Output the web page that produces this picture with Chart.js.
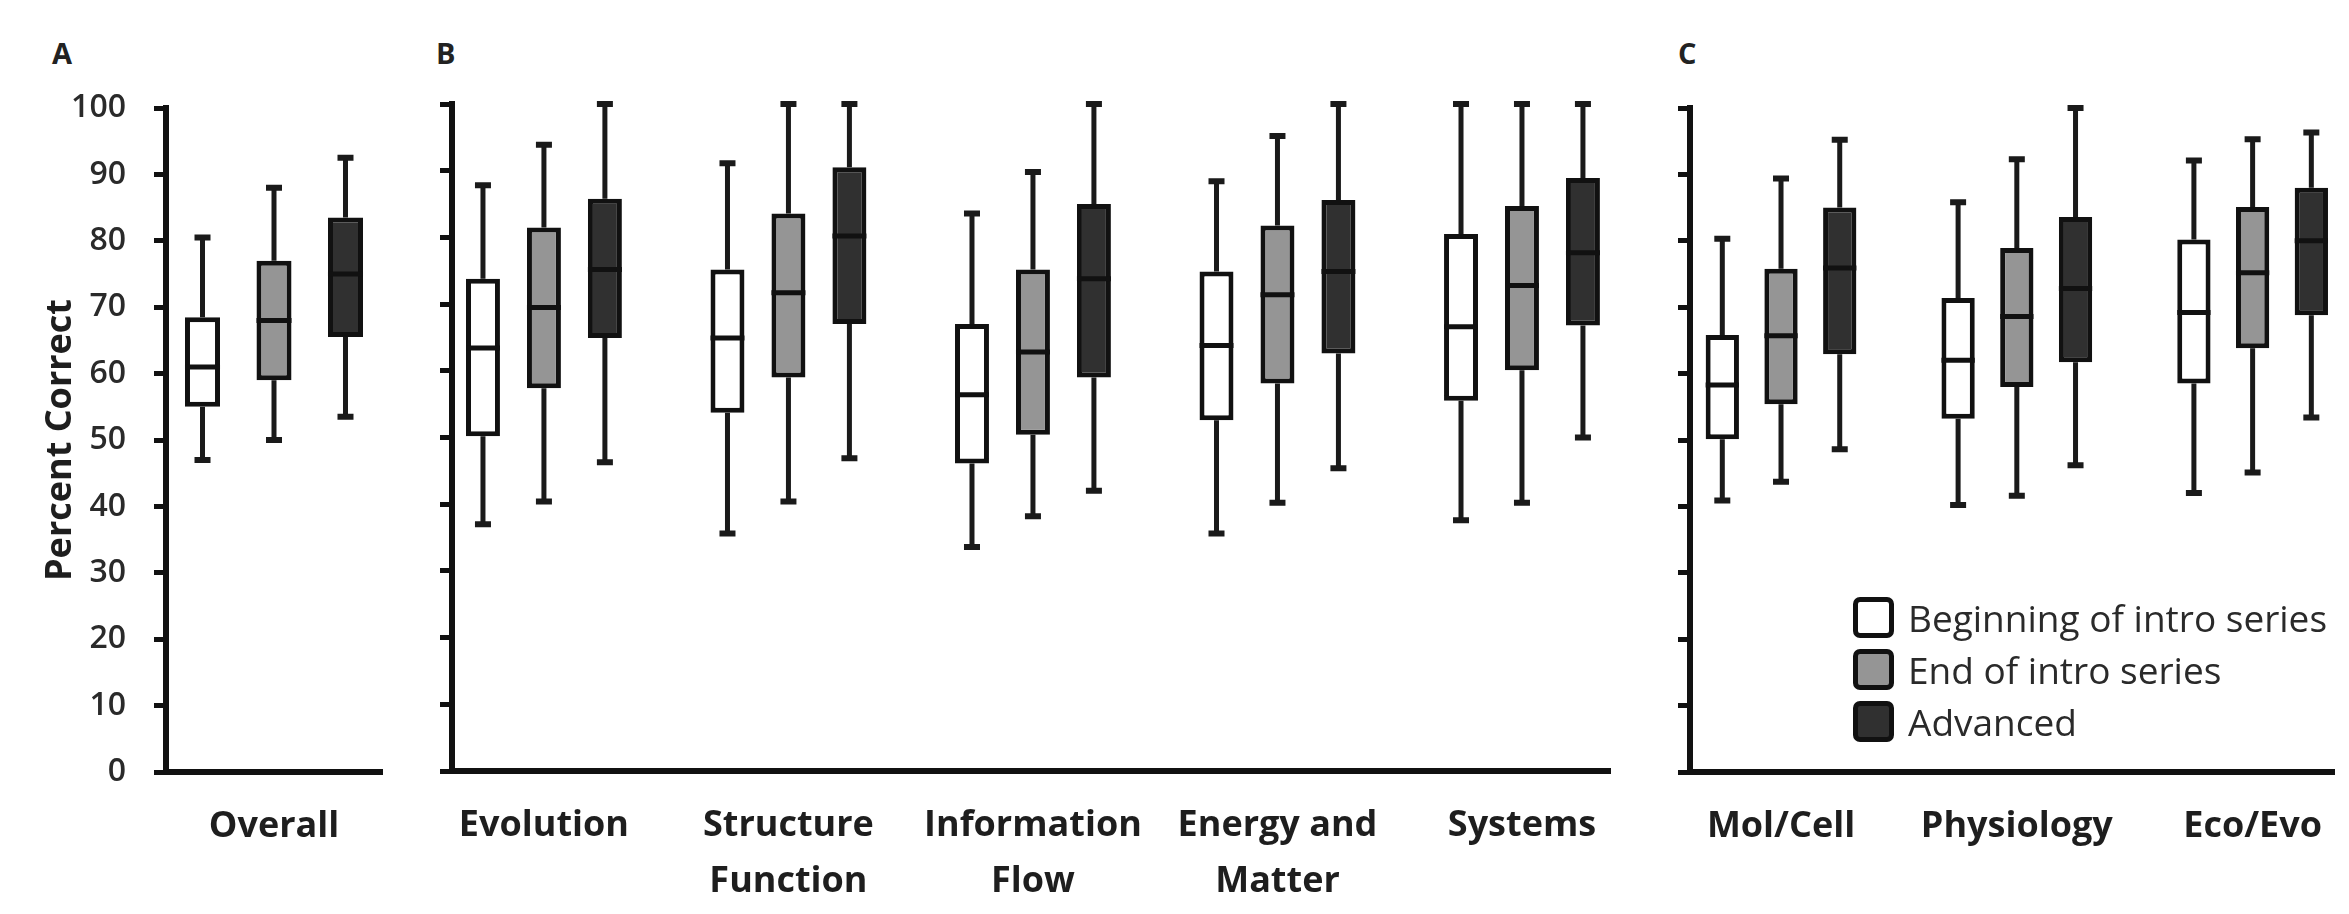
<!DOCTYPE html>
<html>
<head>
<meta charset="utf-8">
<script src="https://cdn.jsdelivr.net/npm/chart.js@4.4.0/dist/chart.umd.min.js"></script>
<style>
  html, body { margin: 0; padding: 0; background: #fff; }
  body { width: 2349px; height: 914px; position: relative; overflow: hidden; font-family: 'Open Sans', sans-serif; }
  canvas { position: absolute; top: 0; }
  .tag { position: absolute; top: 38px; font: bold 29px/29px 'Open Sans', sans-serif; color: #222; }
  #legend { position: absolute; left: 1853px; top: 591px; }
  .leg-item { display: flex; align-items: center; height: 52px; font-size: 37px; color: #2a2a2a; white-space: nowrap; }
  .leg-box { width: 31px; height: 31px; border: 5px solid #111; border-radius: 7px; margin-right: 14px; }
</style>
</head>
<body>
<div class="tag" style="left:52px">A</div>
<div class="tag" style="left:436px">B</div>
<div class="tag" style="left:1678px">C</div>
<canvas id="chartA" width="420" height="914" style="left:0"></canvas>
<canvas id="chartB" width="1220" height="914" style="left:420px"></canvas>
<canvas id="chartC" width="709" height="914" style="left:1640px"></canvas>
<div id="legend"></div>
<script>
// series shared by the three panels
const seriesNames = ['Beginning of intro series', 'End of intro series', 'Advanced'];
const seriesFill = ['#ffffff', '#959595', '#303030'];

// every row: [min, Q1, median, Q3, max]  (percent correct)
// A - overall
const overallLabels = ['Overall'];
const overallBegin = [[47, 55, 61, 68.5, 80.5]];
const overallEnd = [[50, 59, 68, 77, 88]];
const overallAdv = [[53.5, 65.5, 75, 83.5, 92.5]];

// B - core concepts
const conceptLabels = ['Evolution', ['Structure', 'Function'], ['Information', 'Flow'], ['Energy and', 'Matter'], 'Systems'];
const conceptBegin = [
    [37, 50.2, 63.4, 73.8, 87.8],
    [35.6, 53.7, 64.9, 75.2, 91.1],
    [33.6, 46.1, 56.4, 67, 83.6],
    [35.6, 52.6, 63.8, 74.9, 88.4],
    [37.6, 55.5, 66.6, 80.5, 100]
];
const conceptEnd = [
    [40.4, 57.4, 69.5, 81.5, 93.9],
    [40.4, 59, 71.7, 83.6, 100],
    [38.2, 50.4, 62.8, 75.2, 89.8],
    [40.2, 58.1, 71.4, 81.8, 95.2],
    [40.2, 60.1, 72.8, 84.7, 100]
];
const conceptAdv = [
    [46.3, 64.9, 75.2, 85.8, 100],
    [46.9, 67, 80.2, 90.5, 100],
    [42, 59, 73.8, 85, 100],
    [45.4, 62.6, 74.9, 85.6, 100],
    [50, 66.8, 77.7, 88.9, 100]
];

// C - subdisciplines
const areaLabels = ['Mol/Cell', 'Physiology', 'Eco/Evo'];
const areaBegin = [
    [40.9, 50.1, 58.3, 65.8, 80.3],
    [40.2, 53.2, 62, 71.4, 85.8],
    [42, 58.5, 69.2, 80.2, 92.1]
];
const areaEnd = [
    [43.7, 55.4, 65.7, 75.8, 89.4],
    [41.6, 58, 68.6, 78.9, 92.3],
    [45.1, 63.8, 75.2, 85.1, 95.3]
];
const areaAdv = [
    [48.6, 62.9, 75.9, 85, 95.2],
    [46.2, 61.7, 72.8, 83.6, 100],
    [53.4, 68.8, 80, 88, 96.3]
];

Chart.defaults.font.family = "'Open Sans', sans-serif";

// whiskers behind the boxes, median line on top
const boxWhiskers = {
    id: 'boxWhiskers',
    beforeDatasetsDraw(chart) {
        const ctx = chart.ctx, y = chart.scales.y;
        ctx.save();
        ctx.strokeStyle = '#1a1a1a';
        chart.data.datasets.forEach((ds, d) => {
            chart.getDatasetMeta(d).data.forEach((bar, i) => {
                const [lo, q1, , q3, hi] = ds.stats[i];
                ctx.lineWidth = 5;
                ctx.beginPath();
                ctx.moveTo(bar.x, y.getPixelForValue(hi));
                ctx.lineTo(bar.x, y.getPixelForValue(q3));
                ctx.moveTo(bar.x, y.getPixelForValue(q1));
                ctx.lineTo(bar.x, y.getPixelForValue(lo));
                ctx.stroke();
                ctx.lineWidth = 6;
                ctx.beginPath();
                [lo, hi].forEach(v => {
                    ctx.moveTo(bar.x - 8, y.getPixelForValue(v));
                    ctx.lineTo(bar.x + 8, y.getPixelForValue(v));
                });
                ctx.stroke();
            });
        });
        ctx.restore();
    },
    afterDatasetsDraw(chart) {
        const ctx = chart.ctx, y = chart.scales.y;
        ctx.save();
        ctx.strokeStyle = '#111';
        ctx.lineWidth = 5;
        chart.data.datasets.forEach((ds, d) => {
            chart.getDatasetMeta(d).data.forEach((bar, i) => {
                const py = y.getPixelForValue(ds.stats[i][2]);
                ctx.beginPath();
                ctx.moveTo(bar.x - bar.width / 2, py);
                ctx.lineTo(bar.x + bar.width / 2, py);
                ctx.stroke();
            });
        });
        ctx.restore();
    }
};

function boxDatasets(series, catPct, barPct) {
    return series.map((rows, s) => ({
        label: seriesNames[s],
        data: rows.map((r, i) => ({ x: i, y: [r[1], r[3]] })),
        stats: rows,
        backgroundColor: seriesFill[s],
        borderColor: '#111',
        borderWidth: 5,
        borderSkipped: false,
        categoryPercentage: catPct,
        barPercentage: barPct
    }));
}

function makePanel(id, labels, series, cfg) {
    return new Chart(document.getElementById(id), {
        type: 'bar',
        data: { datasets: boxDatasets(series, cfg.catPct, cfg.barPct) },
        plugins: [boxWhiskers],
        options: {
            responsive: false,
            animation: false,
            events: [],
            layout: { padding: { top: cfg.top, right: cfg.right, left: 0, bottom: 0 } },
            plugins: { legend: { display: false }, tooltip: { enabled: false } },
            scales: {
                x: {
                    type: 'linear',
                    min: cfg.xMin,
                    max: cfg.xMax,
                    offset: false,
                    afterBuildTicks: s => { s.ticks = labels.map((l, i) => ({ value: i })); },
                    afterFit: s => { s.height = cfg.bottomH; },
                    grid: { display: false, drawTicks: false },
                    border: { display: true, color: '#111', width: 6 },
                    ticks: {
                        autoSkip: false, maxRotation: 0, padding: 27, color: '#1e1e1e',
                        font: { size: 36, weight: 'bold', lineHeight: 1.55 },
                        callback: v => labels[v]
                    }
                },
                y: {
                    min: 0,
                    max: 100,
                    afterFit: s => { s.width = cfg.axisLeft; },
                    grid: { drawOnChartArea: false, drawTicks: true, tickLength: 12, tickWidth: 5, tickColor: '#111' },
                    border: { color: '#111', width: 6 },
                    ticks: { stepSize: 10, display: cfg.showTicks, padding: 28, color: '#2a2a2a', font: { size: 32, weight: '600' } },
                    title: {
                        display: cfg.showTicks, text: 'Percent Correct', color: '#1e1e1e',
                        padding: { top: 39, bottom: 0 }, font: { size: 36, weight: 'bold' }
                    }
                }
            }
        }
    });
}

makePanel('chartA', overallLabels, [overallBegin, overallEnd, overallAdv], {
    top: 108, right: 38, bottomH: 142, axisLeft: 166, xMin: -0.5, xMax: 0.5,
    catPct: 0.993, barPct: 0.49, showTicks: true
});
makePanel('chartB', conceptLabels, [conceptBegin, conceptEnd, conceptAdv], {
    top: 104, right: 30, bottomH: 143, axisLeft: 32, xMin: -0.376, xMax: 4.36,
    catPct: 0.748, barPct: 0.557, showTicks: false
});
makePanel('chartC', areaLabels, [areaBegin, areaEnd, areaAdv], {
    top: 108, right: 0, bottomH: 142, axisLeft: 50, xMin: -0.386, xMax: 2.349,
    catPct: 0.747, barPct: 0.567, showTicks: false
});

// legend (panel C)
const legend = document.getElementById('legend');
seriesNames.forEach((name, s) => {
    const row = document.createElement('div');
    row.className = 'leg-item';
    row.innerHTML = `<span class="leg-box" style="background:${seriesFill[s]}"></span>${name}`;
    legend.appendChild(row);
});
</script>
</body>
</html>
